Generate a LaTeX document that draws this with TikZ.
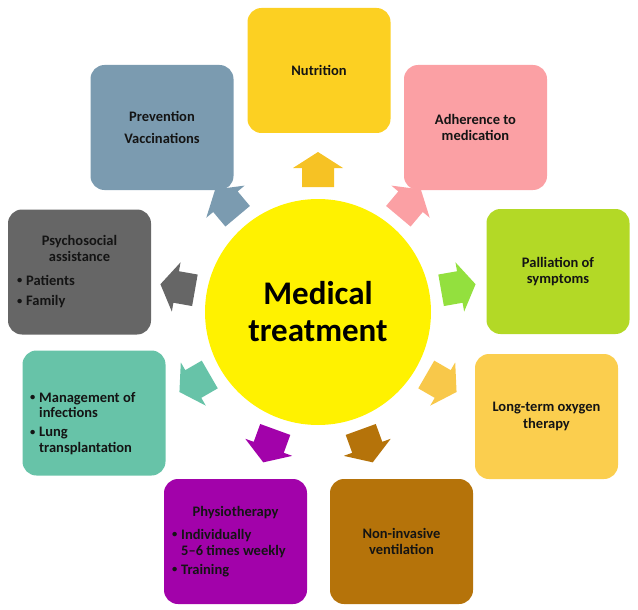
\documentclass[tikz,border=0pt]{standalone}
\usepackage{fontspec}
\setmainfont{Carlito}
\usetikzlibrary{calc}
\definecolor{nutC}{HTML}{FCD022}
\definecolor{nutA}{HTML}{F6C224}
\definecolor{prevC}{HTML}{7B9BB0}
\definecolor{adhC}{HTML}{FBA0A4}
\definecolor{psyC}{HTML}{666666}
\definecolor{palC}{HTML}{B3D926}
\definecolor{palA}{HTML}{93E03E}
\definecolor{mgmtC}{HTML}{67C3A8}
\definecolor{ltoC}{HTML}{FBCE4E}
\definecolor{ltoA}{HTML}{F8C84A}
\definecolor{physC}{HTML}{A202AA}
\definecolor{nivC}{HTML}{B5730A}
\definecolor{txtC}{HTML}{141414}
\newcommand\bl{\makebox[9pt][l]{\raisebox{1.3pt}{\fontsize{10.5}{10.5}\selectfont\textbullet}}}
\newcommand\blockarrow[2]{%
  \fill[#2] ($(C)+(#1:125)+(#1+90:16)$) -- ($(C)+(#1:144)+(#1+90:16)$) --
    ($(C)+(#1:144)+(#1+90:25)$) -- ($(C)+(#1:160)$) --
    ($(C)+(#1:144)+(#1-90:25)$) -- ($(C)+(#1:144)+(#1-90:16)$) --
    ($(C)+(#1:125)+(#1-90:16)$) -- cycle;}
\begin{document}
\begin{tikzpicture}[x=1pt,y=-1pt,
  box/.style={rounded corners=14pt, minimum width=143pt, minimum height=125pt,
    inner sep=0pt, align=center, text=txtC,
    font=\fontsize{14.5}{16.5}\selectfont\bfseries},
  txt/.style={inner sep=0pt, text=txtC, font=\fontsize{14.5}{16.5}\selectfont\bfseries}]
\useasboundingbox (0,0) rectangle (638,610);
\coordinate (C) at (318,312);
% central circle
\node[circle, fill=yellow, minimum size=226pt, inner sep=0pt] (hub) at (C) {};
\node[inner sep=0pt, align=center, text=black,
  font=\fontsize{33}{36.5}\selectfont\bfseries] (hubtext) at (318,311.5) {Medical\\treatment};
% block arrows (angles measured clockwise from the right)
\blockarrow{-90}{nutA}
\blockarrow{-50}{adhC}
\blockarrow{-10}{palA}
\blockarrow{30}{ltoA}
\blockarrow{70}{nivC}
\blockarrow{110}{physC}
\blockarrow{150}{mgmtC}
\blockarrow{-170}{psyC}
\blockarrow{-130}{prevC}
% boxes
\node[box, fill=nutC] (nut) at (319,70.5) {Nutrition};
\node[box, fill=prevC] (prev) at (162,127.5) {Prevention\\[5pt]Vaccinations};
\node[box, fill=adhC] (adh) at (475.5,127.5) {Adherence to\\medication};
\node[box, fill=psyC] (psy) at (79.5,272) {};
\node[box, fill=palC] (pal) at (558,271.5) {Palliation of\\symptoms};
\node[box, fill=mgmtC] (mgmt) at (94,413) {};
\node[box, fill=ltoC] (lto) at (546.5,416.5) {Long-term oxygen\\therapy};
\node[box, fill=physC] (phys) at (235.5,541.5) {};
\node[box, fill=nivC] (niv) at (401.5,541.5) {Non-invasive\\ventilation};
% texts with bullets
\node[txt, align=center] (psyhead) at (79.5,248.5) {Psychosocial\\assistance};
\node[txt, anchor=west] (psylist) at (17,292)
  {\begin{tabular}{@{}l@{}l@{}}\bl&Patients\\[4pt]\bl&Family\end{tabular}};
\node[txt, anchor=west] (mgmtlist) at (30,424)
  {\fontsize{14.5}{15.5}\selectfont\begin{tabular}{@{}l@{}l@{}}\bl&Management of\\&infections\\[3.5pt]\bl&Lung\\&transplantation\end{tabular}};
\node[txt, align=center] (physhead) at (235.5,513) {Physiotherapy};
\node[txt, anchor=west] (physlist) at (172,553.5)
  {\fontsize{14.5}{16}\selectfont\begin{tabular}{@{}l@{}l@{}}\bl&Individually\\&5--6 times weekly\\[3pt]\bl&Training\end{tabular}};
\end{tikzpicture}
\end{document}
